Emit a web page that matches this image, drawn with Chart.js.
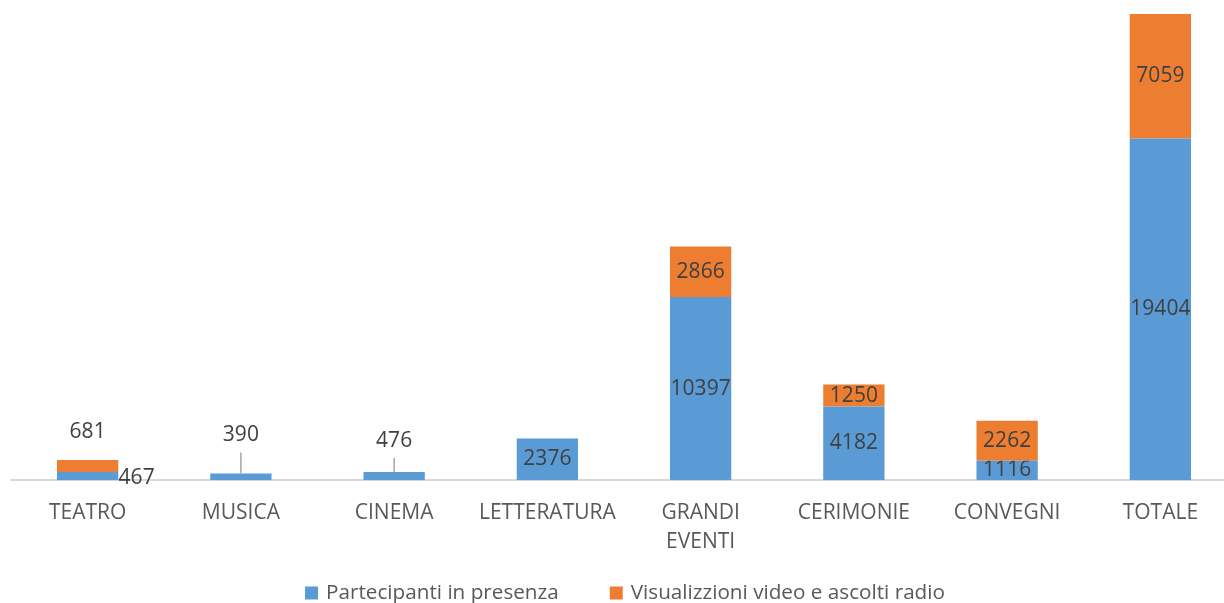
<!DOCTYPE html>
<html>
<head>
<meta charset="utf-8">
<script src="https://cdn.jsdelivr.net/npm/chart.js@4"></script>
<style>
    html, body { margin: 0; padding: 0; background: #ffffff; overflow: hidden; }
    #wrap { position: relative; width: 1250px; height: 603px; }
</style>
</head>
<body>
<div id="wrap"><canvas id="myChart"></canvas></div>
<script>
// categories and values
const categories = ['TEATRO', 'MUSICA', 'CINEMA', 'LETTERATURA', ['GRANDI', 'EVENTI'], 'CERIMONIE', 'CONVEGNI', 'TOTALE'];
const presenza = [467, 390, 476, 2376, 10397, 4182, 1116, 19404];
const video = [681, 0, 0, 0, 2866, 1250, 2262, 7059];
const seriesNames = ['Partecipanti in presenza', 'Visualizzioni video e ascolti radio'];
const seriesColors = ['#5B9BD5', '#ED7D31'];

const labelFont = '21px "Open Sans"';
const labelColor = '#404040';

// labels that sit outside small bars: [dataset, index] -> offsets from the bar
const labelTweaks = {
    '0-0': {dx: 49, dy: 2},
    '1-0': {dy: -28, mode: 'top'},
    '0-1': {dy: -38, mode: 'top', leader: 21},
    '0-2': {dy: -31, mode: 'top', leader: 14},
    '0-6': {clip: true}
};

// draws the value labels, like the data labels of the original
const valueLabels = {
    id: 'valueLabels',
    afterDatasetsDraw(chart) {
        const ctx = chart.ctx;
        ctx.save();
        ctx.textAlign = 'center';
        ctx.textBaseline = 'middle';
        chart.data.datasets.forEach(function(ds, d) {
            const meta = chart.getDatasetMeta(d);
            meta.data.forEach(function(bar, i) {
                const value = ds.data[i];
                if (!value) {
                    return;
                }
                const tweak = labelTweaks[d + '-' + i] || {};
                let x = bar.x;
                let y = (bar.y + bar.base) / 2;
                if (tweak.mode == 'top') {
                    y = bar.y;
                }
                x += tweak.dx || 0;
                y += tweak.dy || 0;
                if (tweak.leader) {
                    ctx.strokeStyle = '#a6a6a6';
                    ctx.lineWidth = 1.5;
                    ctx.beginPath();
                    ctx.moveTo(bar.x, bar.y);
                    ctx.lineTo(bar.x, bar.y - tweak.leader);
                    ctx.stroke();
                }
                ctx.save();
                if (tweak.clip) {
                    ctx.beginPath();
                    ctx.rect(bar.x - bar.width / 2, bar.y, bar.width, bar.base - bar.y - 2);
                    ctx.clip();
                }
                ctx.font = labelFont;
                ctx.fillStyle = labelColor;
                ctx.fillText(String(value), x, y);
                ctx.restore();
            });
        });
        ctx.restore();
    }
};

// legend at the bottom, drawn by hand so the gap between items matches
const bottomLegend = {
    id: 'bottomLegend',
    afterDraw(chart) {
        const ctx = chart.ctx;
        const box = 13;
        const gap = 8;
        const itemGap = 51;
        const y = 593;
        ctx.save();
        ctx.font = '20.7px "Open Sans"';
        ctx.textBaseline = 'middle';
        let widths = seriesNames.map(function(name) { return box + gap + ctx.measureText(name).width; });
        let total = widths[0] + itemGap + widths[1];
        let x = chart.width / 2 - total / 2;
        seriesNames.forEach(function(name, k) {
            ctx.fillStyle = seriesColors[k];
            ctx.fillRect(x, y - box / 2, box, box);
            ctx.fillStyle = '#595959';
            ctx.fillText(name, x + box + gap, y);
            x += widths[k] + itemGap;
        });
        ctx.restore();
    }
};

const totals = presenza.map(function(v, i) { return v + video[i]; });

const data = {
    labels: categories,
    datasets: [{
        label: seriesNames[0],
        data: presenza,
        backgroundColor: seriesColors[0],
        barPercentage: 0.4,
        categoryPercentage: 1.0
    }, {
        label: seriesNames[1],
        data: video,
        backgroundColor: seriesColors[1],
        barPercentage: 0.4,
        categoryPercentage: 1.0
    }]
};

const config = {
    type: 'bar',
    data: data,
    plugins: [valueLabels, bottomLegend],
    options: {
        responsive: true,
        maintainAspectRatio: false,
        animation: false,
        layout: {
            padding: {top: 14, left: 11, right: 13, bottom: 36}
        },
        scales: {
            x: {
                stacked: true,
                grid: {display: false},
                border: {display: true, color: '#d9d9d9', width: 2},
                ticks: {
                    color: '#595959',
                    font: {family: 'Open Sans', size: 21, lineHeight: 1.35},
                    padding: 11,
                    maxRotation: 0,
                    autoSkip: false
                }
            },
            y: {
                stacked: true,
                display: false,
                min: 0,
                max: Math.max.apply(null, totals)
            }
        },
        plugins: {
            legend: {display: false},
            tooltip: {enabled: false}
        }
    }
};

const myChart = new Chart(document.getElementById('myChart'), config);
</script>
</body>
</html>
